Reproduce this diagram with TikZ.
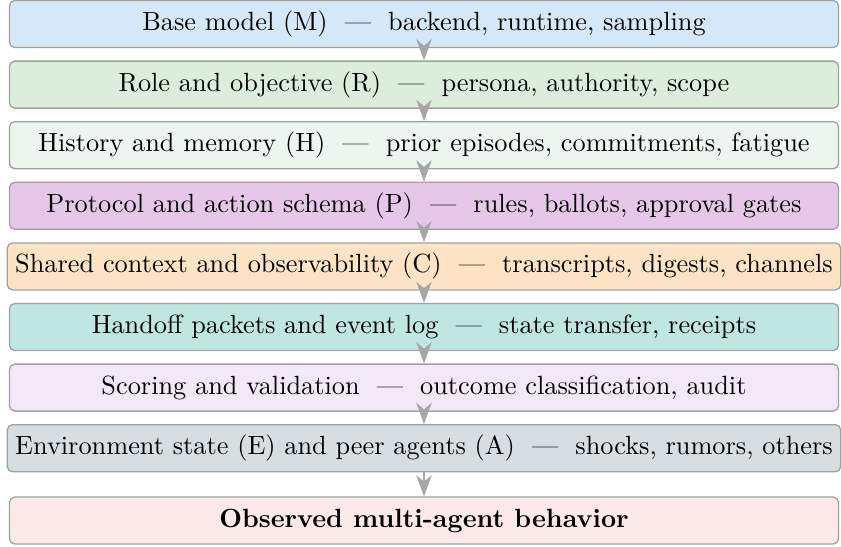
\documentclass[tikz,border=0pt]{standalone}
\usetikzlibrary{arrows.meta}

% layer fills
\definecolor{cM}{HTML}{D5E8FA}
\definecolor{cR}{HTML}{DCEDDC}
\definecolor{cH}{HTML}{EDF6EE}
\definecolor{cP}{HTML}{E6C7E9}
\definecolor{cC}{HTML}{FEE4C4}
\definecolor{cHo}{HTML}{BFE6E0}
\definecolor{cS}{HTML}{F3E8F7}
\definecolor{cE}{HTML}{D6DEE2}
\definecolor{cO}{HTML}{FDE9E7}
\definecolor{edge}{HTML}{A0A0A0}
\definecolor{flow}{HTML}{A6A6A6}

\newcommand\sepdash{\hspace{6.5pt}---\hspace{6.5pt}}

\begin{document}
\begin{tikzpicture}[x=0.38pt,y=-0.38pt,
  layer/.style={draw=edge, line width=0.5pt, rounded corners=2pt,
    minimum width=829*0.38pt, minimum height=47*0.38pt,
    inner xsep=3pt, inner ysep=0pt, font=\fontsize{10}{12}\selectfont},
  flowarrow/.style={draw=flow, line width=1pt,
    -{Stealth[length=8pt,width=5.8pt,inset=2.4pt]}}]
  \useasboundingbox (0,0) rectangle (841,546);

  \node[layer, fill=cM]  (m)  at (424,24)    {Base model (M)\sepdash backend, runtime, sampling};
  \node[layer, fill=cR]  (r)  at (424,84.6)  {Role and objective (R)\sepdash persona, authority, scope};
  \node[layer, fill=cH]  (h)  at (424,145.2) {History and memory (H)\sepdash prior episodes, commitments, fatigue};
  \node[layer, fill=cP]  (p)  at (424,205.8) {Protocol and action schema (P)\sepdash rules, ballots, approval gates};
  \node[layer, fill=cC]  (c)  at (424,266.4) {Shared context and observability (C)\sepdash transcripts, digests, channels};
  \node[layer, fill=cHo] (ho) at (424,327)   {Handoff packets and event log\sepdash state transfer, receipts};
  \node[layer, fill=cS]  (s)  at (424,387.6) {Scoring and validation\sepdash outcome classification, audit};
  \node[layer, fill=cE]  (e)  at (424,448.2) {Environment state (E) and peer agents (A)\sepdash shocks, rumors, others};
  \node[layer, fill=cO]  (o)  at (424,520.5) {\bfseries Observed multi-agent behavior};

  \foreach \a/\b in {m/r, r/h, h/p, p/c, c/ho, ho/s, s/e, e/o}
    \draw[flowarrow] (\a.south) -- (\b.north);
\end{tikzpicture}
\end{document}
